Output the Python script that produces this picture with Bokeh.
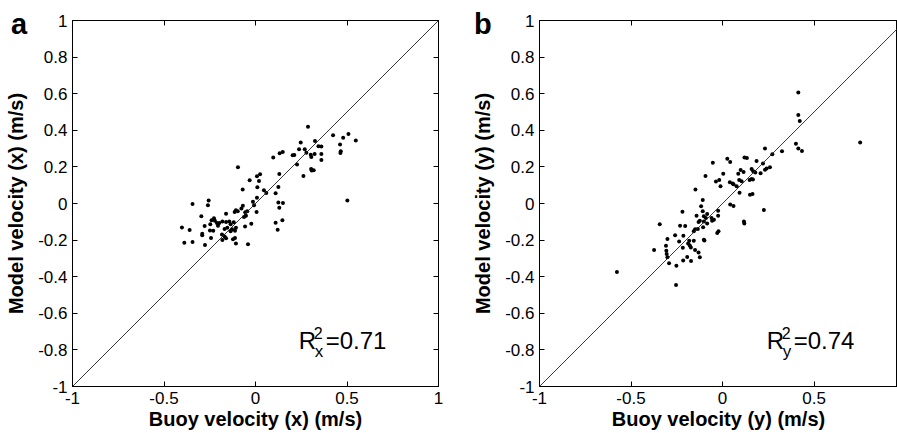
from bokeh.plotting import figure
from bokeh.layouts import row
from bokeh.models import Range1d, LinearAxis, FixedTicker, CustomJSTickFormatter, Label, Slope, Div
from bokeh.embed import file_html
from bokeh.resources import INLINE

# ---------------- data ----------------
buoy_x = [0.287, 0.424, 0.508, 0.479, 0.548, 0.462, 0.466, 0.464, 0.502, 0.325,
          0.344, 0.360, 0.360, 0.360, 0.247, 0.238, 0.269, 0.278, 0.302, 0.305,
          0.323, 0.203, 0.212, 0.227, 0.262, 0.304, 0.307, 0.318, 0.149, 0.132,
          0.097, 0.130, 0.125, 0.110, 0.125, 0.150, 0.130, 0.147, 0.110, 0.121,
          0.046, 0.059, 0.025, 0.008, 0.019, 0.010, 0.008, -0.014, 0.006, -0.008,
          -0.032, -0.096, -0.070, -0.069, -0.077, -0.056, -0.045, -0.052, -0.063, -0.023,
          -0.057, -0.041, -0.107, -0.097, -0.114, -0.119, -0.107, -0.136, -0.128, -0.112,
          -0.112, -0.107, -0.123, -0.136, -0.161, -0.161, -0.143, -0.154, -0.169, -0.169,
          -0.161, -0.181, -0.181, -0.198, -0.211, -0.205, -0.227, -0.222, -0.240, -0.247,
          -0.231, -0.249, -0.243, -0.276, -0.291, -0.291, -0.296, -0.278, -0.256, -0.260,
          -0.344, -0.360, -0.402, -0.389, -0.344, -0.183]
model_x = [0.420, 0.373, 0.380, 0.359, 0.344, 0.322, 0.285, 0.276, 0.016, 0.342,
           0.313, 0.311, 0.271, 0.238, 0.333, 0.296, 0.296, 0.278, 0.267, 0.254,
           0.271, 0.263, 0.265, 0.213, 0.150, 0.189, 0.180, 0.182, 0.282, 0.274,
           0.252, 0.161, 0.090, 0.056, 0.006, 0.003, -0.023, -0.092, -0.105, -0.143,
           0.073, 0.057, 0.160, 0.149, 0.123, 0.089, 0.032, 0.010, -0.046, -0.010,
           0.127, 0.198, 0.076, -0.012, -0.027, -0.048, -0.043, -0.067, -0.074, -0.110,
           -0.125, -0.223, -0.037, -0.043, -0.046, -0.103, -0.132, -0.114, -0.141, -0.149,
           -0.189, -0.218, -0.196, -0.152, -0.056, -0.101, -0.098, -0.132, -0.139, -0.181,
           -0.190, -0.199, -0.099, -0.107, -0.107, -0.121, -0.081, -0.094, -0.092, -0.114,
           -0.149, -0.147, -0.189, -0.227, -0.165, -0.174, -0.070, -0.123, 0.016, -0.010,
           -0.003, -0.145, -0.131, -0.214, -0.211, -0.170]

buoy_y = [0.414, 0.414, 0.422, 0.752, 0.401, 0.414, 0.434, 0.325, 0.272, 0.232,
          0.186, 0.221, 0.259, 0.241, 0.232, 0.208, 0.159, 0.168, 0.179, 0.159,
          0.148, 0.166, 0.150, 0.164, 0.226, 0.120, 0.133, 0.115, 0.099, 0.086,
          0.091, 0.104, 0.093, 0.077, 0.026, 0.042, 0.004, 0.040, 0.055, 0.060,
          0.042, 0.060, 0.117, 0.119, -0.053, -0.036, -0.018, -0.011, -0.093, -0.148,
          -0.024, -0.024, -0.022, -0.029, -0.060, -0.057, -0.047, -0.084, -0.091, -0.084,
          -0.102, -0.108, -0.108, -0.117, -0.102, -0.124, -0.131, -0.142, -0.106, -0.102,
          -0.099, -0.150, -0.157, -0.157, -0.150, -0.131, -0.124, -0.172, -0.193, -0.188,
          -0.179, -0.173, -0.182, -0.214, -0.219, -0.204, -0.232, -0.217, -0.237, -0.215,
          -0.259, -0.252, -0.254, -0.292, -0.301, -0.309, -0.307, -0.305, -0.301, -0.343,
          -0.374, -0.577, -0.135]
model_y = [0.606, 0.484, 0.451, 0.333, 0.327, 0.300, 0.287, 0.285, 0.269, 0.300,
           0.232, 0.218, 0.198, 0.191, 0.185, 0.165, 0.189, 0.176, 0.169, 0.134,
           0.129, 0.131, 0.048, 0.052, -0.036, 0.251, 0.249, 0.172, 0.183, 0.162,
           0.129, 0.121, 0.059, 0.094, 0.245, 0.227, 0.163, 0.116, 0.109, 0.105,
           -0.006, -0.014, -0.099, -0.109, 0.222, 0.120, 0.129, 0.094, 0.150, 0.076,
           -0.039, -0.067, -0.152, -0.161, -0.079, -0.094, -0.089, -0.057, -0.079, -0.109,
           -0.099, -0.043, 0.019, -0.015, -0.069, -0.094, -0.101, -0.067, -0.130, -0.198,
           -0.202, -0.141, -0.152, -0.203, -0.254, -0.268, -0.294, -0.314, -0.292, -0.218,
           -0.229, -0.240, -0.203, -0.176, -0.045, -0.123, -0.121, -0.242, -0.207, -0.311,
           -0.174, -0.340, -0.446, -0.327, -0.194, -0.231, -0.258, -0.276, -0.294, -0.114,
           -0.254, -0.374, -0.139]

x_ticks_a = [-1, -0.5, 0, 0.5, 1]
x_ticks_b = [-1, -0.5, 0, 0.5]
y_ticks = [-1, -0.8, -0.6, -0.4, -0.2, 0, 0.2, 0.4, 0.6, 0.8, 1]

FONT = "Liberation Sans"
FMT = "var s = tick.toFixed(1); if (s.endsWith('.0')) { s = s.slice(0, -2); } if (s == '-0') { s = '0'; } return s;"


def style_axis(ax, ticks, labelled, label=""):
    ax.ticker = FixedTicker(ticks=ticks, minor_ticks=[])
    ax.major_tick_in = 5
    ax.major_tick_out = 0
    ax.minor_tick_in = 0
    ax.minor_tick_out = 0
    ax.axis_line_color = "black"
    ax.major_tick_line_color = "black"
    ax.major_label_text_font = FONT
    ax.major_label_text_color = "black"
    if labelled:
        ax.formatter = CustomJSTickFormatter(code=FMT)
        ax.major_label_text_font_size = "17px"
        ax.major_label_standoff = 5
        ax.axis_label = label
        ax.axis_label_text_font = FONT
        ax.axis_label_text_font_size = "20px"
        ax.axis_label_text_font_style = "bold"
        ax.axis_label_text_color = "black"
    else:
        ax.formatter = CustomJSTickFormatter(code="return '';")
        ax.major_label_text_font_size = "0px"
        ax.major_label_standoff = 0


def panel(xs, ys, x_end, x_ticks, xlabel, ylabel, sub, val,
          frame_w, left_b, right_b, right_axis, r_x):
    p = figure(frame_width=frame_w, frame_height=366,
               x_range=Range1d(-1, x_end), y_range=Range1d(-1, 1),
               x_axis_type=None, y_axis_type=None,
               output_backend="svg", toolbar_location=None,
               min_border_left=left_b, min_border_right=right_b,
               min_border_top=20, min_border_bottom=47)
    p.outline_line_color = "black"
    p.outline_line_width = 1
    p.background_fill_color = "white"
    p.border_fill_color = "white"

    bx = LinearAxis()
    style_axis(bx, x_ticks, True, xlabel)
    bx.axis_label_standoff = 1
    p.add_layout(bx, "below")
    ly = LinearAxis()
    style_axis(ly, y_ticks, True, ylabel)
    ly.axis_label_standoff = 8
    p.add_layout(ly, "left")
    tx = LinearAxis()
    style_axis(tx, x_ticks, False)
    p.add_layout(tx, "above")
    if right_axis:
        ry = LinearAxis()
        style_axis(ry, y_ticks, False)
        p.add_layout(ry, "right")

    p.add_layout(Slope(gradient=1, y_intercept=0, line_color="#222222", line_width=0.9))
    p.scatter(xs, ys, size=4, color="black", line_width=0)

    ay0 = -0.751
    p.add_layout(Label(x=r_x, y=ay0, text="R", text_font=FONT, text_font_size="24px",
                       text_baseline="middle", text_color="black"))
    p.add_layout(Label(x=r_x, y=ay0, x_offset=15, y_offset=8, text="2", text_font=FONT,
                       text_font_size="16px", text_baseline="middle", text_color="black"))
    p.add_layout(Label(x=r_x, y=ay0, x_offset=16, y_offset=-11, text=sub, text_font=FONT,
                       text_font_size="17px", text_baseline="middle", text_color="black"))
    p.add_layout(Label(x=r_x, y=ay0, x_offset=27, text=val, text_font=FONT,
                       text_font_size="24px", text_baseline="middle", text_color="black"))
    return p


pa = panel(buoy_x, model_x, 1, x_ticks_a, "Buoy velocity (x) (m/s)",
           "Model velocity (x) (m/s)", "x", "=0.71",
           366, 72, 28, True, 0.236)
pb = panel(buoy_y, model_y, 0.956, x_ticks_b, "Buoy velocity (y) (m/s)",
           "Model velocity (y) (m/s)", "y", "=0.74",
           358, 73, 0, False, 0.241)

layout = row(pa, pb)


def letter(t, left):
    return Div(text=t, styles={"position": "absolute", "left": f"{left}px", "top": "10px",
                               "font-family": FONT, "font-size": "29px",
                               "font-weight": "bold", "line-height": "1", "color": "black",
                               "margin": "0", "padding": "0"})


div_a = letter("a", 11)
div_b = letter("b", 474)

open("out.html", "w").write(file_html([layout, div_a, div_b], INLINE))
